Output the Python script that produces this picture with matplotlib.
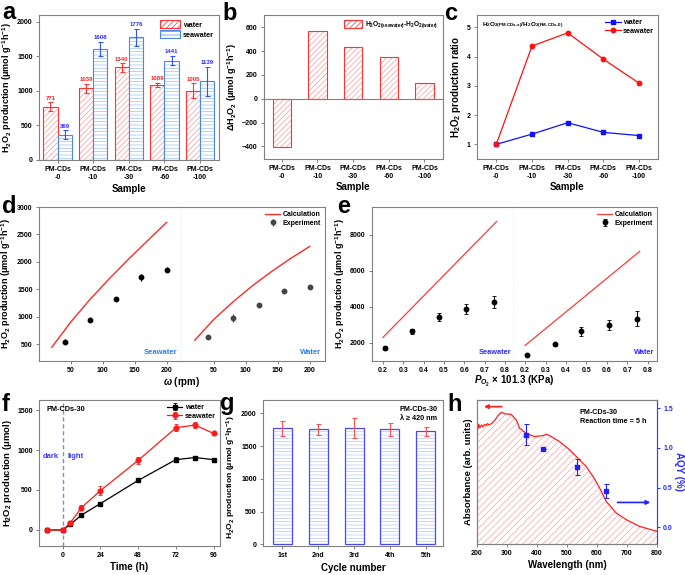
import numpy as np
import matplotlib
matplotlib.use('Agg')
import matplotlib.pyplot as plt
from matplotlib.patches import Patch
from matplotlib.lines import Line2D

plt.rcParams['font.family'] = ['Liberation Sans', 'DejaVu Sans']
plt.rcParams['font.weight'] = 'bold'
plt.rcParams['axes.labelweight'] = 'bold'
plt.rcParams['mathtext.fontset'] = 'custom'
plt.rcParams['mathtext.rm'] = 'Liberation Sans:bold'
plt.rcParams['mathtext.it'] = 'Liberation Sans:italic:bold'
plt.rcParams['mathtext.bf'] = 'Liberation Sans:bold'
plt.rcParams['mathtext.default'] = 'rm'
plt.rcParams['hatch.linewidth'] = 0.5
plt.rcParams['axes.edgecolor'] = '#808080'
plt.rcParams['axes.linewidth'] = 0.8

# ---------------- data ----------------
samples = ['PM-CDs\n-0', 'PM-CDs\n-10', 'PM-CDs\n-30', 'PM-CDs\n-60', 'PM-CDs\n-100']
water_prod = [771, 1039, 1340, 1089, 1005]
water_err = [65, 63, 60, 25, 105]
sea_prod = [369, 1608, 1776, 1441, 1139]
sea_err = [60, 100, 120, 65, 205]

delta_prod = [-402, 569, 436, 352, 134]

ratio_water = [1.00, 1.35, 1.74, 1.41, 1.30]
ratio_sea = [1.00, 4.36, 4.81, 3.91, 3.09]

omega_calc = [20, 50, 80, 110, 140, 170, 200]
calc_sea_d = [440, 905, 1315, 1690, 2045, 2385, 2720]
calc_water_d = [570, 950, 1270, 1560, 1820, 2060, 2280]
omega_exp = [40, 80, 120, 160, 200]
exp_sea_d = [545, 945, 1315, 1715, 1855]
exp_sea_d_err = [50, 50, 35, 60, 45]
exp_water_d = [628, 970, 1210, 1475, 1535]
exp_water_d_err = [25, 70, 40, 30, 40]

po2_calc = [0.2, 0.76]
calc_sea_e = [2300, 8740]
calc_water_e = [1850, 7070]
po2_exp = [0.21, 0.345, 0.475, 0.61, 0.745]
exp_sea_e = [1720, 2630, 3430, 3860, 4270]
exp_sea_e_err = [100, 120, 220, 270, 330]
exp_water_e = [1330, 1930, 2630, 3000, 3340]
exp_water_e_err = [60, 80, 260, 280, 400]

time_h = [-10, 0, 5, 12, 24, 48, 72, 84, 96]
water_f = [0, 0, 70, 187, 330, 620, 880, 905, 880]
water_f_err = [10, 10, 10, 12, 15, 25, 35, 15, 20]
sea_f = [0, 0, 92, 280, 492, 870, 1278, 1312, 1207]
sea_f_err = [10, 10, 15, 30, 55, 45, 45, 35, 20]

cycles = ['1st', '2nd', '3rd', '4th', '5th']
cycle_prod = [1776, 1760, 1776, 1760, 1724]
cycle_err = [115, 85, 155, 100, 75]

wl = [200, 203, 206, 210, 215, 220, 225, 230, 235, 240, 250, 260, 270, 281, 295, 314,
      331, 342, 364, 392, 420, 431, 442, 475, 509, 542, 564, 587, 609, 631, 664, 698, 742, 800]
absorb = [3.63, 3.45, 3.60, 3.50, 3.58, 3.52, 3.60, 3.56, 3.62, 3.58, 3.63, 3.73, 3.86, 3.96,
          3.91, 3.90, 3.73, 3.48, 3.33, 3.23, 3.26, 3.30, 3.26, 3.08, 2.83, 2.53, 2.33, 2.03,
          1.68, 1.28, 0.93, 0.73, 0.53, 0.38]
aqy_wl = [365, 420, 535, 630]
aqy = [1.17, 0.985, 0.763, 0.455]
aqy_err = [0.135, 0.0, 0.10, 0.085]

# ---------------- figure ----------------
W, H = 685, 575
fig = plt.figure(figsize=(W / 100, H / 100), dpi=100)


def add_ax(l, t, r, b):
    return fig.add_axes([l / W, 1 - b / H, (r - l) / W, (b - t) / H])


TICK = 5
LAB = 7
GRAY = '#808080'
RED = '#ff3333'
LRED = '#ff9a9a'
BLUE = '#4a86e8'
LBLUE = '#9cc0f5'


def style(ax):
    ax.tick_params(direction='out', length=2.5, width=0.7, color=GRAY,
                   labelsize=TICK, pad=2)
    for lab in ax.get_xticklabels() + ax.get_yticklabels():
        lab.set_fontweight('bold')


def panel_letter(x, y, s):
    fig.text(x / W, 1 - y / H, s, fontsize=17, fontweight='bold', va='baseline')


ylab_prod = 'H$_2$O$_2$ production (μmol g$^{-1}$h$^{-1}$)'
xs = np.arange(len(samples))

# ---- a ----
ax = add_ax(39, 15, 219, 160)
w = 0.4
ax.bar(xs - w / 2, water_prod, w, color='white', edgecolor=LRED, hatch='//////', linewidth=0)
ax.bar(xs - w / 2, water_prod, w, fill=False, edgecolor=RED, linewidth=0.8)
ax.bar(xs + w / 2, sea_prod, w, color='white', edgecolor=LBLUE, hatch='-----', linewidth=0)
ax.bar(xs + w / 2, sea_prod, w, fill=False, edgecolor=BLUE, linewidth=0.8)
ax.errorbar(xs - w / 2, water_prod, yerr=water_err, fmt='none', ecolor=RED,
            elinewidth=0.8, capsize=1.8, capthick=0.8)
ax.errorbar(xs + w / 2, sea_prod, yerr=sea_err, fmt='none', ecolor='#3355ee',
            elinewidth=0.8, capsize=1.8, capthick=0.8)
for i in range(len(xs)):
    ax.text(xs[i] - w / 2, water_prod[i] + water_err[i] + 25, str(water_prod[i]),
            color='#ff2020', fontsize=4.3, ha='center', va='bottom', fontweight='bold')
    ax.text(xs[i] + w / 2, sea_prod[i] + sea_err[i] + 25, str(sea_prod[i]),
            color='#2a2aff', fontsize=4.3, ha='center', va='bottom', fontweight='bold')
ax.set_xlim(-0.52, 4.53)
ax.set_ylim(0, 2100)
ax.set_yticks([0, 500, 1000, 1500, 2000])
ax.set_xticks(xs)
ax.set_xticklabels(samples)
ax.set_xlabel('Sample', fontsize=LAB, labelpad=2)
ax.set_ylabel(ylab_prod, fontsize=6.5, labelpad=2)
h1 = Patch(facecolor='white', edgecolor=RED, hatch='//////', linewidth=0.8)
h2 = Patch(facecolor='white', edgecolor=BLUE, hatch='-----', linewidth=0.8)
ax.legend([h1, h2], ['water', 'seawater'], loc='upper right', fontsize=5.2,
          frameon=False, handlelength=2.8, handleheight=1.4, borderaxespad=0.3,
          labelspacing=0.2, handletextpad=0.4)
style(ax)
panel_letter(2, 19, 'a')

# ---- b ----
ax = add_ax(264, 15, 443, 159)
ax.bar(xs, delta_prod, 0.51, color='white', edgecolor=LRED, hatch='//////', linewidth=0)
ax.bar(xs, delta_prod, 0.51, fill=False, edgecolor=RED, linewidth=0.8)
ax.axhline(0, color=GRAY, lw=0.8)
ax.set_xlim(-0.5, 4.52)
ax.set_ylim(-505, 703)
ax.set_yticks([-400, -200, 0, 200, 400, 600])
ax.set_xticks(xs)
ax.set_xticklabels(samples)
ax.set_xlabel('Sample', fontsize=LAB, labelpad=1)
ax.set_ylabel('ΔH$_2$O$_2$ (μmol g$^{-1}$h$^{-1}$)', fontsize=6.5, labelpad=2)
h3 = Patch(facecolor='white', edgecolor=RED, hatch='//////', linewidth=0.8)
ax.legend([h3], ['H$_2$O$_{2(seawater)}$-H$_2$O$_{2(water)}$'], loc='upper right',
          fontsize=4.8, frameon=False, handlelength=2.8, handleheight=1.3,
          borderaxespad=0.3, handletextpad=0.4)
style(ax)
panel_letter(222, 20, 'b')

# ---- c ----
ax = add_ax(477, 15, 658, 159)
ax.plot(xs, ratio_water, '-s', color='#1010ff', ms=3, lw=0.9, label='water')
ax.plot(xs, ratio_sea, '-o', color='#ff1010', ms=3.2, lw=0.9, label='seawater')
ax.set_xlim(-0.54, 4.53)
ax.set_ylim(0.5, 5.42)
ax.set_yticks([1, 2, 3, 4, 5])
ax.set_xticks(xs)
ax.set_xticklabels(samples)
ax.set_xlabel('Sample', fontsize=LAB, labelpad=1)
ax.set_ylabel('H$_2$O$_2$ production ratio', fontsize=7, labelpad=3)
ax.legend(loc='upper right', fontsize=5.2, frameon=False, handlelength=2.2,
          borderaxespad=0.2, labelspacing=0.2, handletextpad=0.3)
ax.text(0.03, 0.96, 'H$_2$O$_{2(PM‐CDs‐x)}$/H$_2$O$_{2(PM‐CDs‐0)}$', transform=ax.transAxes,
        fontsize=4.6, va='top', ha='left', fontweight='bold')
style(ax)
panel_letter(444, 20, 'c')

# ---- d ----
axL = add_ax(39, 207, 182, 361)
axR = add_ax(182, 207, 325, 361)
for a_, calc, ex, er, lbl, mc in [(axL, calc_sea_d, exp_sea_d, exp_sea_d_err, 'Seawater', 'black'),
                                   (axR, calc_water_d, exp_water_d, exp_water_d_err, 'Water', '#444444')]:
    a_.plot(omega_calc, calc, color='#ff2a2a', lw=1.0, label='Calculation')
    a_.errorbar(omega_exp, ex, yerr=er, fmt='o', color=mc, ms=3.2, elinewidth=0.8,
                capsize=0, label='Experiment')
    a_.set_xlim(0, 224)
    a_.set_ylim(190, 3000)
    a_.set_xticks([50, 100, 150, 200])
    a_.text(0.97, 0.03, lbl, transform=a_.transAxes, color='#2f7ff0', fontsize=5.5,
            ha='right', va='bottom', fontweight='bold')
    style(a_)
axL.set_yticks([500, 1000, 1500, 2000, 2500, 3000])
axL.spines['right'].set_linestyle((0, (3, 2)))
axL.spines['right'].set_color('#606060')
axR.spines['left'].set_visible(False)
axR.tick_params(axis='y', left=False, labelleft=False)
axL.set_ylabel(ylab_prod, fontsize=6.5, labelpad=3)
axR.legend(loc='upper right', fontsize=5, frameon=False, handlelength=2.2,
           borderaxespad=0.2, labelspacing=0.25, handletextpad=0.3)
fig.text(182 / W, 1 - 385 / H, r'$\mathit{ω}$ (rpm)', fontsize=7, ha='center',
         va='baseline', fontweight='bold')
panel_letter(2, 213, 'd')

# ---- e ----
axL = add_ax(372, 207, 514, 361)
axR = add_ax(514, 207, 657, 361)
for a_, calc, ex, er, lbl in [(axL, calc_sea_e, exp_sea_e, exp_sea_e_err, 'Seawater'),
                               (axR, calc_water_e, exp_water_e, exp_water_e_err, 'Water')]:
    a_.plot(po2_calc, calc, color='#ff3a3a', lw=0.9, label='Calculation')
    a_.errorbar(po2_exp, ex, yerr=er, fmt='o', color='black', ms=3.2, elinewidth=0.8,
                capsize=1.5, capthick=0.6, label='Experiment')
    a_.set_xlim(0.146, 0.845)
    a_.set_ylim(990, 9540)
    a_.set_xticks([0.2, 0.3, 0.4, 0.5, 0.6, 0.7, 0.8])
    a_.text(0.98, 0.03, lbl, transform=a_.transAxes, color='#2a2aff', fontsize=5.3,
            ha='right', va='bottom', fontweight='bold')
    style(a_)
axL.set_yticks([2000, 4000, 6000, 8000])
axL.spines['right'].set_linestyle((0, (3, 2)))
axL.spines['right'].set_color('#606060')
axR.spines['left'].set_visible(False)
axR.tick_params(axis='y', left=False, labelleft=False)
axL.set_ylabel(ylab_prod, fontsize=6.5, labelpad=2)
axR.legend(loc='upper right', fontsize=5, frameon=False, handlelength=2.2,
           borderaxespad=0.2, labelspacing=0.25, handletextpad=0.3)
fig.text(514 / W, 1 - 384 / H, '$\\mathit{P}$$_{\\mathit{O}_2}$ × 101.3 (KPa)', fontsize=7,
         ha='center', va='baseline', fontweight='bold')
panel_letter(337, 213, 'e')

# ---- f ----
ax = add_ax(39, 400, 220, 546)
ax.axvline(0, color='#8080ff', lw=1.0, ls=(0, (3, 2)))
ax.errorbar(time_h, water_f, yerr=water_f_err, fmt='-s', color='black', ms=3, lw=0.9,
            elinewidth=0.7, capsize=1.5, capthick=0.6, label='water')
ax.errorbar(time_h, sea_f, yerr=sea_f_err, fmt='-o', color='#ff1a1a', ms=3.4, lw=0.9,
            elinewidth=0.7, capsize=1.5, capthick=0.6, label='seawater')
ax.set_xlim(-15, 100)
ax.set_ylim(-200, 1625)
ax.set_xticks([0, 24, 48, 72, 96])
ax.set_yticks([0, 500, 1000, 1500])
ax.text(-2.5, 925, 'dark', color='#3a3aff', fontsize=5.5, ha='right', va='center',
        fontweight='bold')
ax.text(3, 925, 'light', color='#3a3aff', fontsize=5.5, ha='left', va='center',
        fontweight='bold')
ax.text(0.04, 0.96, 'PM-CDs-30', transform=ax.transAxes, fontsize=5.3, va='top',
        ha='left', fontweight='bold')
ax.legend(loc='upper right', fontsize=5.2, frameon=False, handlelength=2.2,
          borderaxespad=0.2, labelspacing=0.2, handletextpad=0.3)
ax.set_xlabel('Time (h)', fontsize=LAB, labelpad=2)
ax.set_ylabel('H$_2$O$_2$ production (μmol)', fontsize=6.8, labelpad=2)
style(ax)
panel_letter(2, 411, 'f')

# ---- g ----
ax = add_ax(263, 400, 443, 546)
gx = np.arange(1, len(cycles) + 1)
ax.bar(gx, cycle_prod, 0.53, color='white', edgecolor='#b8c8f8', hatch='-----', linewidth=0)
ax.bar(gx, cycle_prod, 0.53, fill=False, edgecolor='#4848ff', linewidth=0.9)
ax.errorbar(gx, cycle_prod, yerr=cycle_err, fmt='none', ecolor='#ff5050',
            elinewidth=0.8, capsize=1.8, capthick=0.8)
ax.set_xlim(0.46, 5.48)
ax.set_ylim(-25, 2205)
ax.set_yticks([0, 500, 1000, 1500, 2000])
ax.set_xticks(gx)
ax.set_xticklabels(cycles)
ax.text(0.97, 0.96, 'PM-CDs-30\nλ ≥ 420 nm', transform=ax.transAxes, fontsize=5.2,
        va='top', ha='right', fontweight='bold', linespacing=1.5)
ax.set_xlabel('Cycle number', fontsize=LAB, labelpad=3)
ax.set_ylabel(ylab_prod, fontsize=6.1, labelpad=2, y=0.47)
style(ax)
panel_letter(220, 410, 'g')

# ---- h ----
ax = add_ax(477, 400, 657, 544)
ax.fill_between(wl, absorb, 0, facecolor='none', edgecolor='#ffa0a0', hatch='/////',
                linewidth=0)
ax.plot(wl, absorb, color='#ff2020', lw=0.9)
ax.set_xlim(200, 800)
ax.set_ylim(0, 4.33)
ax.set_yticks([])
ax.set_xticks([200, 300, 400, 500, 600, 700, 800])
ax.annotate('', xy=(214, 4.13), xytext=(292, 4.13),
            arrowprops=dict(arrowstyle='-|>', color='#ff2020', lw=1.2, mutation_scale=6))
ax.set_xlabel('Wavelength (nm)', fontsize=LAB, labelpad=2)
ax.set_ylabel('Absorbance (arb. units)', fontsize=6.8, labelpad=3)
ax.text(0.57, 0.94, 'PM-CDs-30\nReaction time = 5 h', transform=ax.transAxes,
        fontsize=5.2, va='top', ha='left', fontweight='bold', linespacing=1.5)
style(ax)
ax2 = ax.twinx()
ax2.errorbar(aqy_wl, aqy, yerr=aqy_err, fmt='s', color='#2020ff', ms=2.5, elinewidth=0.8,
             capsize=1.8, capthick=0.7)
ax2.set_ylim(-0.21, 1.605)
ax2.set_yticks([0.0, 0.5, 1.0, 1.5])
ax2.set_yticklabels(['0.0', '0.5', '1.0', '1.5'])
ax2.annotate('', xy=(787, 0.314), xytext=(659, 0.314),
             arrowprops=dict(arrowstyle='-|>', color='#2020ff', lw=1.2, mutation_scale=6))
ax2.spines['right'].set_color('#3a3aff')
ax2.set_ylabel('AQY (%)', fontsize=7, color='#2a2aff', rotation=270, labelpad=8)
style(ax2)
ax2.tick_params(axis='y', colors='#2a2aff')
panel_letter(447, 411, 'h')

fig.savefig('out.png', dpi=100)
